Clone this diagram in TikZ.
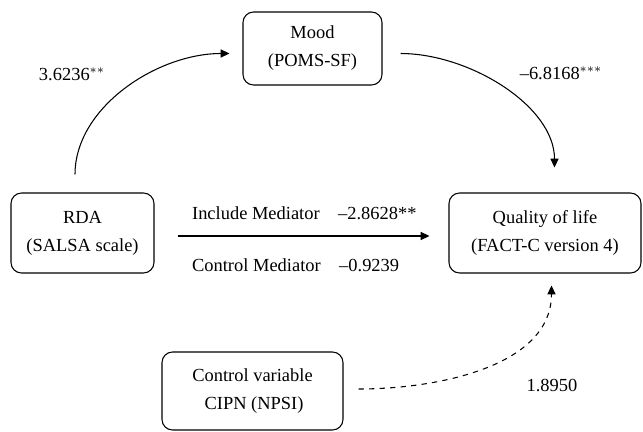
\documentclass[tikz,border=0pt]{standalone}
\usepackage{fontspec}
\setmainfont{Liberation Serif}
\usetikzlibrary{arrows.meta}
\begin{document}
\begin{tikzpicture}
\tikzset{every node/.style={font=\fontsize{10.5}{15.9}\selectfont,inner sep=1pt},
  var/.style={draw=black,rounded corners=6pt,line width=.6pt,align=center,minimum height=1.5cm},
  arr/.style={-{Triangle[length=5pt,width=4.6pt]},line width=.6pt}}
    \useasboundingbox (0,0) rectangle (12.86,8.62);
    \node[var,minimum width=2.78cm,minimum height=1.46cm] (mood) at (6.25,7.65) {Mood\\(POMS-SF)};
    \node[var,minimum width=2.86cm,minimum height=1.6cm] (rda) at (1.65,3.96) {RDA\\(SALSA scale)};
    \node[var,minimum width=3.84cm,minimum height=1.6cm] (qol) at (10.9,3.96) {Quality of life\\(FACT-C version 4)};
    \node[var,minimum width=3.62cm,minimum height=1.56cm] (cipn) at (5.05,0.8) {Control variable\\ \,CIPN (NPSI)};

    \draw[arr,shorten <=.36cm,shorten >=.26cm] ([xshift=-.15cm]rda.north) to[out=90,in=180] ([yshift=-.1cm]mood.west);
    \draw[arr,shorten <=.36cm,shorten >=.5cm] ([yshift=-.1cm]mood.east) to[out=0,in=90] ([xshift=.19cm]qol.north);
    \draw[arr,shorten <=.46cm,shorten >=.38cm] ([yshift=-.06cm]rda.east) -- ([yshift=-.06cm]qol.west);
    \draw[arr,dashed,shorten <=.3cm,shorten >=.24cm] ([yshift=.04cm]cipn.east) to[out=0,in=270] ([xshift=.13cm]qol.south);

    \node (b1) at (1.44,7.14) {3.6236$^{**}$};
    \node (b2) at (11.22,7.16) {--6.8168$^{***}$};
    \node[anchor=west] (c1) at (3.8,4.36) {Include Mediator\quad --2.8628**};
    \node[anchor=west] (c2) at (3.8,3.32) {Control Mediator\quad --0.9239};
    \node (b3) at (11.04,0.92) {1.8950};
\end{tikzpicture}
\end{document}
